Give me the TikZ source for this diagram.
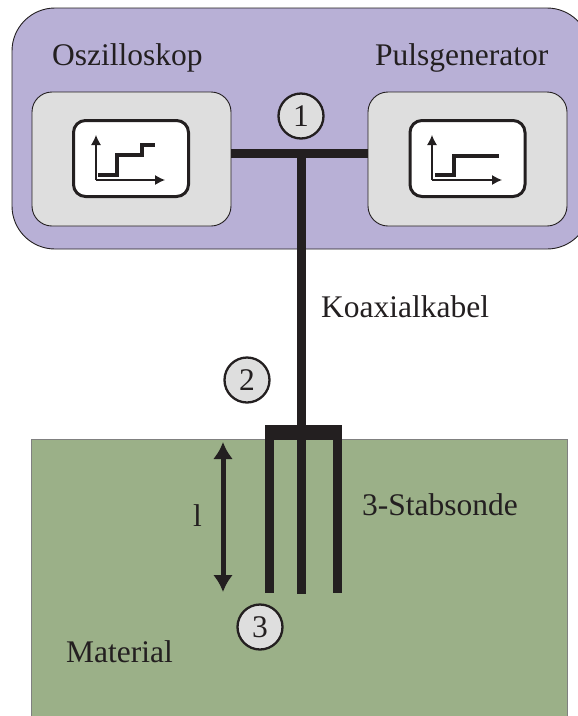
\documentclass[tikz,border=0pt]{standalone}
\usepackage{fontspec}
\setmainfont{Liberation Serif}
\usetikzlibrary{arrows.meta}

\definecolor{gehaeuse}{RGB}{184,176,214}
\definecolor{geraet}{RGB}{222,222,222}
\definecolor{boden}{RGB}{155,176,136}
\definecolor{tinte}{RGB}{35,31,32}

\begin{document}
\begin{tikzpicture}[
    x=1pt, y=-1pt,
    >=Latex, % Default arrow tip
    every node/.style={text=tinte, font=\fontsize{31.5}{34}\selectfont},
    labelstyle/.style={anchor=base west, inner sep=0pt}, % Plain text labels
    devicebox/.style={draw=tinte, line width=0.9pt, fill=geraet, rounded corners=20pt, minimum width=199pt, minimum height=134pt, inner sep=0pt}, % Grey device boxes
    screenbox/.style={draw=tinte, line width=3pt, fill=white, rounded corners=12pt, minimum width=115pt, minimum height=76pt, inner sep=0pt}, % White screens
    marker/.style={circle, draw=tinte, line width=2.3pt, fill=geraet, minimum size=45pt, inner sep=0pt}, % Numbered circles
    cable/.style={draw=tinte, line width=9pt}, % Thick conductor
    tine/.style={draw=tinte, line width=9pt}, % Probe rods
    trace/.style={draw=tinte, line width=3.6pt}, % Signal on the screen
    axis/.style={draw=tinte, line width=1.2pt, -{Latex[length=10pt, width=10pt]}} % Screen axes
]

    % --- Page and clipping ---
    \useasboundingbox (0,0) rectangle (578,716);
    \clip (0,0) rectangle (578,716);

    % --- Housing and material ---
    \fill[boden] (31,439) rectangle (567,720);
    \draw[gray, line width=1pt] (31,720) -- (31,439) -- (567,439) -- (567,720);
    \draw[tinte, line width=0.9pt, fill=gehaeuse, rounded corners=43pt] (12,8) rectangle (590,249);

    % --- Devices ---
    \node[devicebox] (oszi) at (131.5,159) {};
    \node[devicebox] (puls) at (467.5,159) {};
    \node[screenbox] (oszischirm) at (131,158.5) {};
    \node[screenbox] (pulsschirm) at (467.5,158.5) {};

    % --- Oscilloscope screen ---
    \coordinate (ooszi) at (96,180);
    \draw[axis] (ooszi) -- (96,135);
    \draw[axis] (ooszi) -- (165,180);
    \draw[trace] (98,175) -- (117,175) -- (117,155) -- (142,155) -- (142,145) -- (155,145);

    % --- Generator screen ---
    \coordinate (opuls) at (432,180);
    \draw[axis] (opuls) -- (432,135);
    \draw[axis] (opuls) -- (502,180);
    \draw[trace] (435,175) -- (454,175) -- (454,156) -- (499,156);

    % --- Coaxial cable ---
    \coordinate (abzweig) at (301,153.5);
    \coordinate (mitte) at (301,594);
    \draw[cable] (oszi.east |- abzweig) -- (puls.west |- abzweig);
    \draw[cable] (abzweig) -- (mitte);

    % --- Probe ---
    \node[fill=tinte, minimum width=77pt, minimum height=15pt, inner sep=0pt] (kopf) at (303.5,432.5) {};
    \coordinate (linksende) at (269.5,593);
    \coordinate (rechtsende) at (337.5,593);
    \draw[tine] (linksende |- kopf.south) -- (linksende);
    \draw[tine] (rechtsende |- kopf.south) -- (rechtsende);

    % --- Length arrow ---
    \coordinate (loben) at (223,442);
    \coordinate (lunten) at (223,592);
    \draw[tinte, line width=5pt, {Latex[length=17pt, width=20pt]}-{Latex[length=17pt, width=20pt]}] (loben) -- (lunten);

    % --- Numbered markers ---
    \node[marker] (eins) at (301,116) {1};
    \node[marker] (zwei) at (247,380) {2};
    \node[marker] (drei) at (260,627) {3};

    % --- Labels ---
    \node[labelstyle] (oszitext) at (52,65) {Oszilloskop};
    \node[labelstyle] (pulstext) at (375,65) {Pulsgenerator};
    \node[labelstyle] (kabeltext) at (321,317) {Koaxialkabel};
    \node[labelstyle] (sondetext) at (362,515) {3-Stabsonde};
    \node[labelstyle] (materialtext) at (66,662) {Material};
    \node[labelstyle] (laenge) at (193,526) {l};

\end{tikzpicture}
\end{document}
